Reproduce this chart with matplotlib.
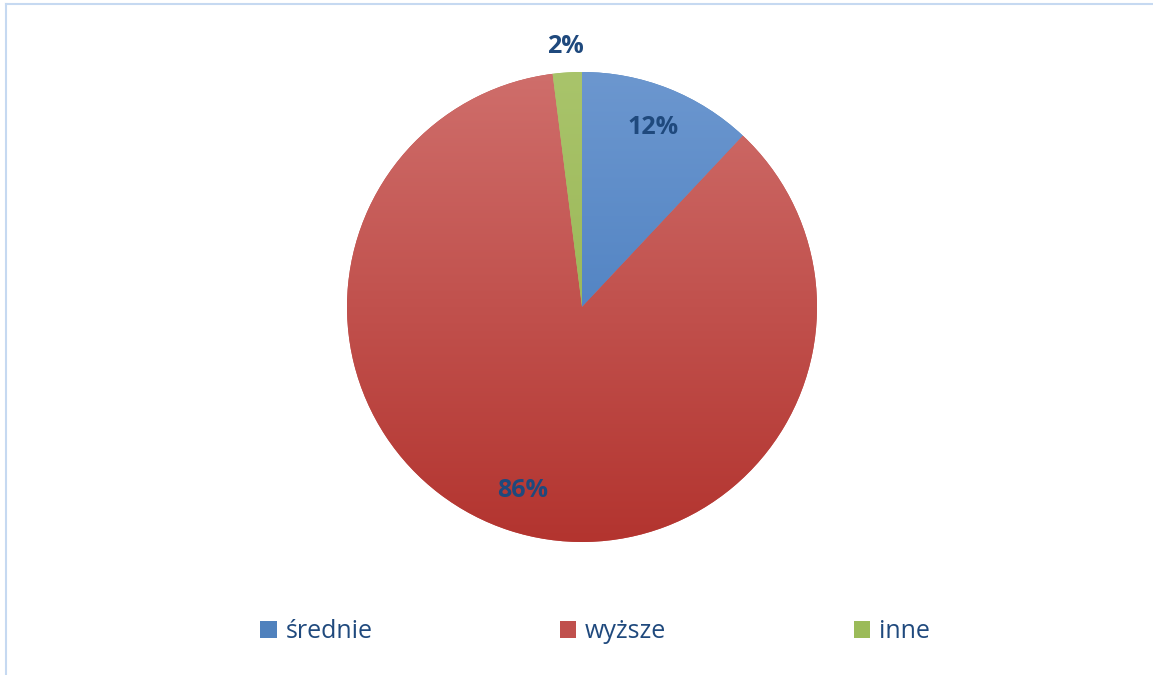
import numpy as np
import matplotlib.pyplot as plt
from matplotlib.colors import to_rgb

# Data
labels = ['średnie', 'wyższe', 'inne']
values = [12, 86, 2]
top_colors = ['#6C97CF', '#CF6E6B', '#A9C46B']
bottom_colors = ['#3B73B9', '#B3342F', '#8FAD47']
base_colors = ['#4F81BD', '#C0504D', '#9BBB59']
label_color = '#1F497D'

W, H = 1153, 675
fig = plt.figure(figsize=(W / 100, H / 100), dpi=100)
ax = fig.add_axes([0, 0, 1, 1])
ax.set_xlim(0, W)
ax.set_ylim(0, H)
ax.set_aspect('equal')
ax.axis('off')

cx, cy, r = 582, H - 307, 235

wedges, texts, autotexts = ax.pie(
    values, colors=base_colors, startangle=90, counterclock=False,
    center=(cx, cy), radius=r, autopct='%1.0f%%', pctdistance=0.82,
    wedgeprops=dict(linewidth=0), frame=True,
    textprops=dict(color=label_color, fontsize=18, fontweight='bold',
                   family='Open Sans'))
ax.set_xlim(0, W)
ax.set_ylim(0, H)
ax.axis('off')

# vertical gradient fill per wedge
for w, ct, cb in zip(wedges, top_colors, bottom_colors):
    t = np.linspace(0, 1, 256)[:, None]
    c0, c1 = np.array(to_rgb(ct)), np.array(to_rgb(cb))
    img = (c0[None, None, :] * (1 - t[..., None]) + c1[None, None, :] * t[..., None])
    img = np.repeat(img, 2, axis=1)
    im = ax.imshow(img, extent=(cx - r, cx + r, cy - r, cy + r), origin='upper',
                   aspect='auto', zorder=w.get_zorder() + 0.1)
    im.set_clip_path(w)

for t in autotexts:
    t.set_zorder(5)

# small slice label outside
ang = np.deg2rad(90 - 360 * (sum(values[:-1]) + values[-1] / 2) / sum(values))
autotexts[-1].set_position((cx + 1.11 * r * np.cos(ang), cy + 1.11 * r * np.sin(ang)))

leg = ax.legend(wedges, labels, loc='center', bbox_to_anchor=(0.516, 1 - 632 / H),
                ncol=3, frameon=False, handlelength=0.65, handleheight=0.65,
                handletextpad=0.35, columnspacing=7.5,
                prop=dict(family='Open Sans', size=18))
for txt in leg.get_texts():
    txt.set_color(label_color)
for h, c in zip(leg.legend_handles, base_colors):
    h.set_facecolor(c)

# light blue frame
fig.add_artist(plt.Line2D([6 / W, 1], [1 - 4 / H, 1 - 4 / H], color='#C6D9F1', lw=1.5))
fig.add_artist(plt.Line2D([6 / W, 6 / W], [0, 1 - 4 / H], color='#C6D9F1', lw=1.5))

fig.savefig('out.png', dpi=100, facecolor='white')
